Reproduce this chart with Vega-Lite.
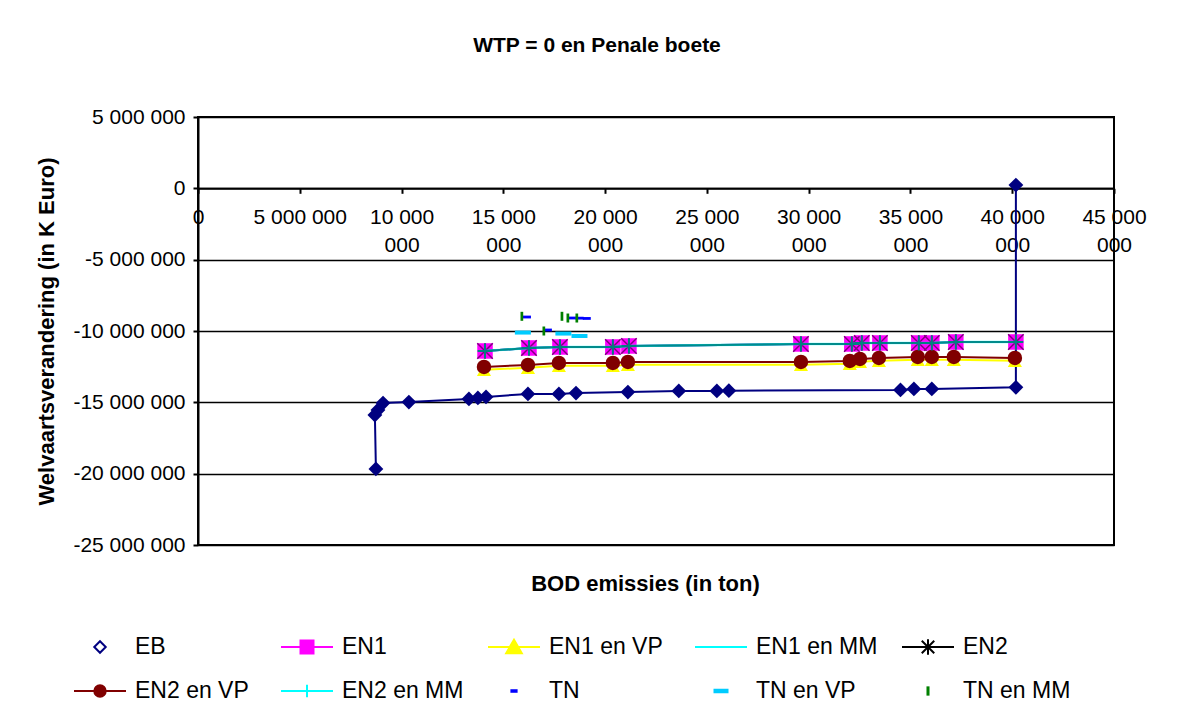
{
  "$schema": "https://vega.github.io/schema/vega-lite/v6.json",
  "width": 916,
  "height": 428,
  "autosize": {"type": "none"},
  "padding": {"left": 198, "top": 117, "right": 79, "bottom": 164},
  "background": "white",
  "title": {"text": "WTP = 0 en Penale boete", "font": "Liberation Sans", "fontSize": 21, "fontWeight": "bold", "color": "black", "anchor": "middle", "offset": 50, "dx": -59},
  "config": {
    "font": "Liberation Sans",
    "view": {"stroke": "black", "strokeWidth": 2},
    "axis": {"labelFont": "Liberation Sans", "labelColor": "black", "labelFontSize": 21, "titleFont": "Liberation Sans", "titleFontSize": 22, "titleFontWeight": "bold", "titleColor": "black", "domainColor": "black", "domainWidth": 2, "tickColor": "black", "tickWidth": 2, "tickSize": 5},
    "legend": {"orient": "none", "legendX": -125, "legendY": 503, "direction": "horizontal", "columns": 5, "symbolSize": 2704, "symbolStrokeWidth": 2, "symbolOpacity": 1, "labelFont": "Liberation Sans", "labelFontSize": 23, "labelColor": "black", "labelOffset": 8, "columnPadding": 20, "rowPadding": 5, "gridAlign": "all", "labelLimit": 400, "padding": 0}
  },
  "data": {"values": [
    {"series": "EB", "i": 1, "x": 8740000, "y": -19670000},
    {"series": "EB", "i": 2, "x": 8690000, "y": -15890000},
    {"series": "EB", "i": 3, "x": 8840000, "y": -15540000},
    {"series": "EB", "i": 4, "x": 9090000, "y": -15050000},
    {"series": "EB", "i": 5, "x": 10360000, "y": -14980000},
    {"series": "EB", "i": 6, "x": 13310000, "y": -14760000},
    {"series": "EB", "i": 7, "x": 13750000, "y": -14690000},
    {"series": "EB", "i": 8, "x": 14150000, "y": -14620000},
    {"series": "EB", "i": 9, "x": 16210000, "y": -14410000},
    {"series": "EB", "i": 10, "x": 17730000, "y": -14410000},
    {"series": "EB", "i": 11, "x": 18570000, "y": -14350000},
    {"series": "EB", "i": 12, "x": 21120000, "y": -14280000},
    {"series": "EB", "i": 13, "x": 23620000, "y": -14200000},
    {"series": "EB", "i": 14, "x": 25490000, "y": -14200000},
    {"series": "EB", "i": 15, "x": 26080000, "y": -14180000},
    {"series": "EB", "i": 16, "x": 34510000, "y": -14130000},
    {"series": "EB", "i": 17, "x": 35170000, "y": -14060000},
    {"series": "EB", "i": 18, "x": 36050000, "y": -14060000},
    {"series": "EB", "i": 19, "x": 40180000, "y": -13950000},
    {"series": "EB", "i": 20, "x": 40180000, "y": 230000},

    {"series": "EN1", "x": 14100000, "y": -11400000},
    {"series": "EN1", "x": 16260000, "y": -11190000},
    {"series": "EN1", "x": 17780000, "y": -11120000},
    {"series": "EN1", "x": 20380000, "y": -11120000},
    {"series": "EN1", "x": 21170000, "y": -11050000},
    {"series": "EN1", "x": 29620000, "y": -10910000},
    {"series": "EN1", "x": 32120000, "y": -10910000},
    {"series": "EN1", "x": 32610000, "y": -10840000},
    {"series": "EN1", "x": 33500000, "y": -10840000},
    {"series": "EN1", "x": 35410000, "y": -10840000},
    {"series": "EN1", "x": 36050000, "y": -10840000},
    {"series": "EN1", "x": 37230000, "y": -10770000},
    {"series": "EN1", "x": 40180000, "y": -10770000},

    {"series": "EN1 en VP", "x": 14050000, "y": -12720000},
    {"series": "EN1 en VP", "x": 16210000, "y": -12580000},
    {"series": "EN1 en VP", "x": 17730000, "y": -12440000},
    {"series": "EN1 en VP", "x": 20380000, "y": -12440000},
    {"series": "EN1 en VP", "x": 21120000, "y": -12370000},
    {"series": "EN1 en VP", "x": 29620000, "y": -12370000},
    {"series": "EN1 en VP", "x": 32020000, "y": -12300000},
    {"series": "EN1 en VP", "x": 32520000, "y": -12160000},
    {"series": "EN1 en VP", "x": 33450000, "y": -12090000},
    {"series": "EN1 en VP", "x": 35360000, "y": -12020000},
    {"series": "EN1 en VP", "x": 36050000, "y": -12020000},
    {"series": "EN1 en VP", "x": 37130000, "y": -12020000},
    {"series": "EN1 en VP", "x": 40130000, "y": -12090000},

    {"series": "EN1 en MM", "x": 14100000, "y": -11400000},
    {"series": "EN1 en MM", "x": 16260000, "y": -11190000},
    {"series": "EN1 en MM", "x": 17780000, "y": -11120000},
    {"series": "EN1 en MM", "x": 20380000, "y": -11120000},
    {"series": "EN1 en MM", "x": 21170000, "y": -11050000},
    {"series": "EN1 en MM", "x": 29620000, "y": -10910000},
    {"series": "EN1 en MM", "x": 32120000, "y": -10910000},
    {"series": "EN1 en MM", "x": 32610000, "y": -10840000},
    {"series": "EN1 en MM", "x": 33500000, "y": -10840000},
    {"series": "EN1 en MM", "x": 35410000, "y": -10840000},
    {"series": "EN1 en MM", "x": 36050000, "y": -10840000},
    {"series": "EN1 en MM", "x": 37230000, "y": -10770000},
    {"series": "EN1 en MM", "x": 40180000, "y": -10770000},

    {"series": "EN2", "x": 14100000, "y": -11400000},
    {"series": "EN2", "x": 16260000, "y": -11190000},
    {"series": "EN2", "x": 17780000, "y": -11120000},
    {"series": "EN2", "x": 20380000, "y": -11120000},
    {"series": "EN2", "x": 21170000, "y": -11050000},
    {"series": "EN2", "x": 29620000, "y": -10910000},
    {"series": "EN2", "x": 32120000, "y": -10910000},
    {"series": "EN2", "x": 32610000, "y": -10840000},
    {"series": "EN2", "x": 33500000, "y": -10840000},
    {"series": "EN2", "x": 35410000, "y": -10840000},
    {"series": "EN2", "x": 36050000, "y": -10840000},
    {"series": "EN2", "x": 37230000, "y": -10770000},
    {"series": "EN2", "x": 40180000, "y": -10770000},

    {"series": "EN2 en VP", "x": 14050000, "y": -12520000},
    {"series": "EN2 en VP", "x": 16210000, "y": -12380000},
    {"series": "EN2 en VP", "x": 17730000, "y": -12240000},
    {"series": "EN2 en VP", "x": 20380000, "y": -12240000},
    {"series": "EN2 en VP", "x": 21120000, "y": -12170000},
    {"series": "EN2 en VP", "x": 29620000, "y": -12170000},
    {"series": "EN2 en VP", "x": 32020000, "y": -12100000},
    {"series": "EN2 en VP", "x": 32520000, "y": -11960000},
    {"series": "EN2 en VP", "x": 33450000, "y": -11890000},
    {"series": "EN2 en VP", "x": 35360000, "y": -11820000},
    {"series": "EN2 en VP", "x": 36050000, "y": -11820000},
    {"series": "EN2 en VP", "x": 37130000, "y": -11820000},
    {"series": "EN2 en VP", "x": 40130000, "y": -11890000},

    {"series": "EN2 en MM", "x": 14100000, "y": -11400000},
    {"series": "EN2 en MM", "x": 16260000, "y": -11190000},
    {"series": "EN2 en MM", "x": 17780000, "y": -11120000},
    {"series": "EN2 en MM", "x": 20380000, "y": -11120000},
    {"series": "EN2 en MM", "x": 21170000, "y": -11050000},
    {"series": "EN2 en MM", "x": 29620000, "y": -10910000},
    {"series": "EN2 en MM", "x": 32120000, "y": -10910000},
    {"series": "EN2 en MM", "x": 32610000, "y": -10840000},
    {"series": "EN2 en MM", "x": 33500000, "y": -10840000},
    {"series": "EN2 en MM", "x": 35410000, "y": -10840000},
    {"series": "EN2 en MM", "x": 36050000, "y": -10840000},
    {"series": "EN2 en MM", "x": 37230000, "y": -10770000},
    {"series": "EN2 en MM", "x": 40180000, "y": -10770000},

    {"series": "TN", "x": 16160000, "y": -9020000},
    {"series": "TN", "x": 17190000, "y": -9930000},
    {"series": "TN", "x": 18370000, "y": -9090000},
    {"series": "TN", "x": 18750000, "y": -9100000},
    {"series": "TN", "x": 19100000, "y": -9120000},

    {"series": "TN en VP", "x": 15960000, "y": -10110000},
    {"series": "TN en VP", "x": 17950000, "y": -10180000},
    {"series": "TN en VP", "x": 18740000, "y": -10350000},

    {"series": "TN en MM", "x": 15910000, "y": -8970000},
    {"series": "TN en MM", "x": 16990000, "y": -10000000},
    {"series": "TN en MM", "x": 17880000, "y": -8970000},
    {"series": "TN en MM", "x": 18170000, "y": -9090000},
    {"series": "TN en MM", "x": 18610000, "y": -9090000}
  ]},
  "encoding": {
    "x": {"field": "x", "type": "quantitative",
      "scale": {"domain": [0, 45000000], "nice": false, "zero": false},
      "axis": {"title": "BOD emissies (in ton)", "orient": "bottom", "offset": -356.7,
        "values": [0, 5000000, 10000000, 15000000, 20000000, 25000000, 30000000, 35000000, 40000000, 45000000],
        "grid": false, "labelOverlap": false, "labelFlush": false, "labelPadding": 13, "labelLineHeight": 28, "labelBaseline": "top",
        "labelExpr": "datum.value < 10000000 ? replace(format(datum.value, ','), regexp(',', 'g'), ' ') : [replace(format(floor(datum.value / 1000), ','), regexp(',', 'g'), ' '), '000']",
        "titleX": 447, "titleY": 395, "titleBaseline": "middle"}},
    "y": {"field": "y", "type": "quantitative",
      "scale": {"domain": [-25000000, 5000000], "nice": false, "zero": false},
      "axis": {"title": "Welvaartsverandering (in K Euro)",
        "values": [-25000000, -20000000, -15000000, -10000000, -5000000, 0, 5000000],
        "grid": true, "gridColor": "black", "gridWidth": 1.5, "gridOpacity": 1, "labelPadding": 8,
        "labelExpr": "replace(replace(format(datum.value, ','), regexp(',', 'g'), ' '), '−', '-')",
        "titleX": -152, "titleY": 214, "titleBaseline": "middle", "titleAngle": -90}}
  },
  "layer": [
    {"transform": [{"filter": "datum.series == 'EB'"}], "mark": {"type": "line", "color": "#000080", "strokeWidth": 2}, "encoding": {"order": {"field": "i", "type": "quantitative"}}},
    {"transform": [{"filter": "datum.series == 'EB'"}], "mark": {"type": "point", "shape": "diamond", "filled": true, "color": "#000080", "opacity": 1, "size": 220}},
    {"transform": [{"filter": "datum.series == 'EN1'"}], "mark": {"type": "line", "color": "#FF00FF", "strokeWidth": 2}, "encoding": {}},
    {"transform": [{"filter": "datum.series == 'EN1'"}], "mark": {"type": "point", "shape": "square", "filled": true, "color": "#FF00FF", "opacity": 1, "size": 240}},
    {"transform": [{"filter": "datum.series == 'EN1 en VP'"}], "mark": {"type": "line", "color": "#FFFF00", "strokeWidth": 2}, "encoding": {}},
    {"transform": [{"filter": "datum.series == 'EN1 en VP'"}], "mark": {"type": "point", "shape": "triangle-up", "filled": true, "color": "#FFFF00", "opacity": 1, "size": 200}},
    {"transform": [{"filter": "datum.series == 'EN1 en MM'"}], "mark": {"type": "line", "color": "#00FFFF", "strokeWidth": 2}, "encoding": {}},
    {"transform": [{"filter": "datum.series == 'EN2'"}], "mark": {"type": "line", "color": "#000000", "strokeWidth": 2}, "encoding": {}},
    {"transform": [{"filter": "datum.series == 'EN2'"}], "mark": {"type": "point", "shape": "M-1,-1L1,1M-1,1L1,-1M0,-1V1", "filled": false, "color": "#800080", "strokeWidth": 1.5, "opacity": 1, "size": 240}},
    {"transform": [{"filter": "datum.series == 'EN2 en VP'"}], "mark": {"type": "line", "color": "#800000", "strokeWidth": 2}, "encoding": {}},
    {"transform": [{"filter": "datum.series == 'EN2 en VP'"}], "mark": {"type": "point", "shape": "circle", "filled": true, "color": "#800000", "opacity": 1, "size": 210}},
    {"transform": [{"filter": "datum.series == 'EN2 en MM'"}], "mark": {"type": "line", "color": "#00FFFF", "strokeWidth": 2.5, "opacity": 0.55}, "encoding": {}},
    {"transform": [{"filter": "datum.series == 'EN2 en MM'"}], "mark": {"type": "point", "shape": "M-1,0H1M0,-1V1", "filled": false, "color": "#008080", "strokeWidth": 2, "opacity": 1, "size": 220}},
    {"transform": [{"filter": "datum.series == 'TN'"}], "mark": {"type": "point", "shape": "M-1,-0.35H1V0.35H-1Z", "filled": true, "color": "#0000FF", "opacity": 1, "size": 64}},
    {"transform": [{"filter": "datum.series == 'TN en VP'"}], "mark": {"type": "point", "shape": "M-1,-0.25H1V0.25H-1Z", "filled": true, "color": "#00CCFF", "opacity": 1, "size": 256}},
    {"transform": [{"filter": "datum.series == 'TN en MM'"}], "mark": {"type": "point", "shape": "M-0.3,-1H0.3V1H-0.3Z", "filled": true, "color": "#008000", "opacity": 1, "size": 81}},
    {"transform": [{"filter": "false"}],
      "mark": {"type": "point", "filled": true, "strokeWidth": 2},
      "encoding": {
        "fill": {"field": "series", "type": "nominal", "legend": {"title": null},
          "scale": {"domain": ["EB", "EN1", "EN1 en VP", "EN1 en MM", "EN2", "EN2 en VP", "EN2 en MM", "TN", "TN en VP", "TN en MM"],
            "range": ["#FFFFFF", "#FF00FF", "#FFFF00", "#00FFFF", "#800080", "#800000", "#008080", "#0000FF", "#00CCFF", "#008000"]}},
        "stroke": {"field": "series", "type": "nominal", "legend": {"title": null},
          "scale": {"domain": ["EB", "EN1", "EN1 en VP", "EN1 en MM", "EN2", "EN2 en VP", "EN2 en MM", "TN", "TN en VP", "TN en MM"],
            "range": ["#000080", "#FF00FF", "#FFFF00", "#00FFFF", "#000000", "#800000", "#00FFFF", "#0000FF", "#00CCFF", "#008000"]}},
        "shape": {"field": "series", "type": "nominal", "legend": {"title": null},
          "scale": {"domain": ["EB", "EN1", "EN1 en VP", "EN1 en MM", "EN2", "EN2 en VP", "EN2 en MM", "TN", "TN en VP", "TN en MM"],
            "range": [
              "M-0.22,0L0,-0.22L0.22,0L0,0.22Z",
              "M-1,0H1M-0.25,-0.25H0.25V0.25H-0.25Z",
              "M-1,0H1M0,-0.28L0.3,0.24H-0.3Z",
              "M-1,0H1",
              "M-1,0H1M-0.24,-0.24L0.24,0.24M-0.24,0.24L0.24,-0.24M0,-0.3V0.3",
              "M-1,0H1M-0.22,0A0.22,0.22 0 1,0 0.22,0A0.22,0.22 0 1,0 -0.22,0Z",
              "M-1,0H1M-0.24,0H0.24M0,-0.24V0.24",
              "M-0.1,-0.03H0.1V0.03H-0.1Z",
              "M-0.25,-0.05H0.25V0.05H-0.25Z",
              "M-0.02,-0.14H0.02V0.14H-0.02Z"
            ]}}
      }}
  ]
}
